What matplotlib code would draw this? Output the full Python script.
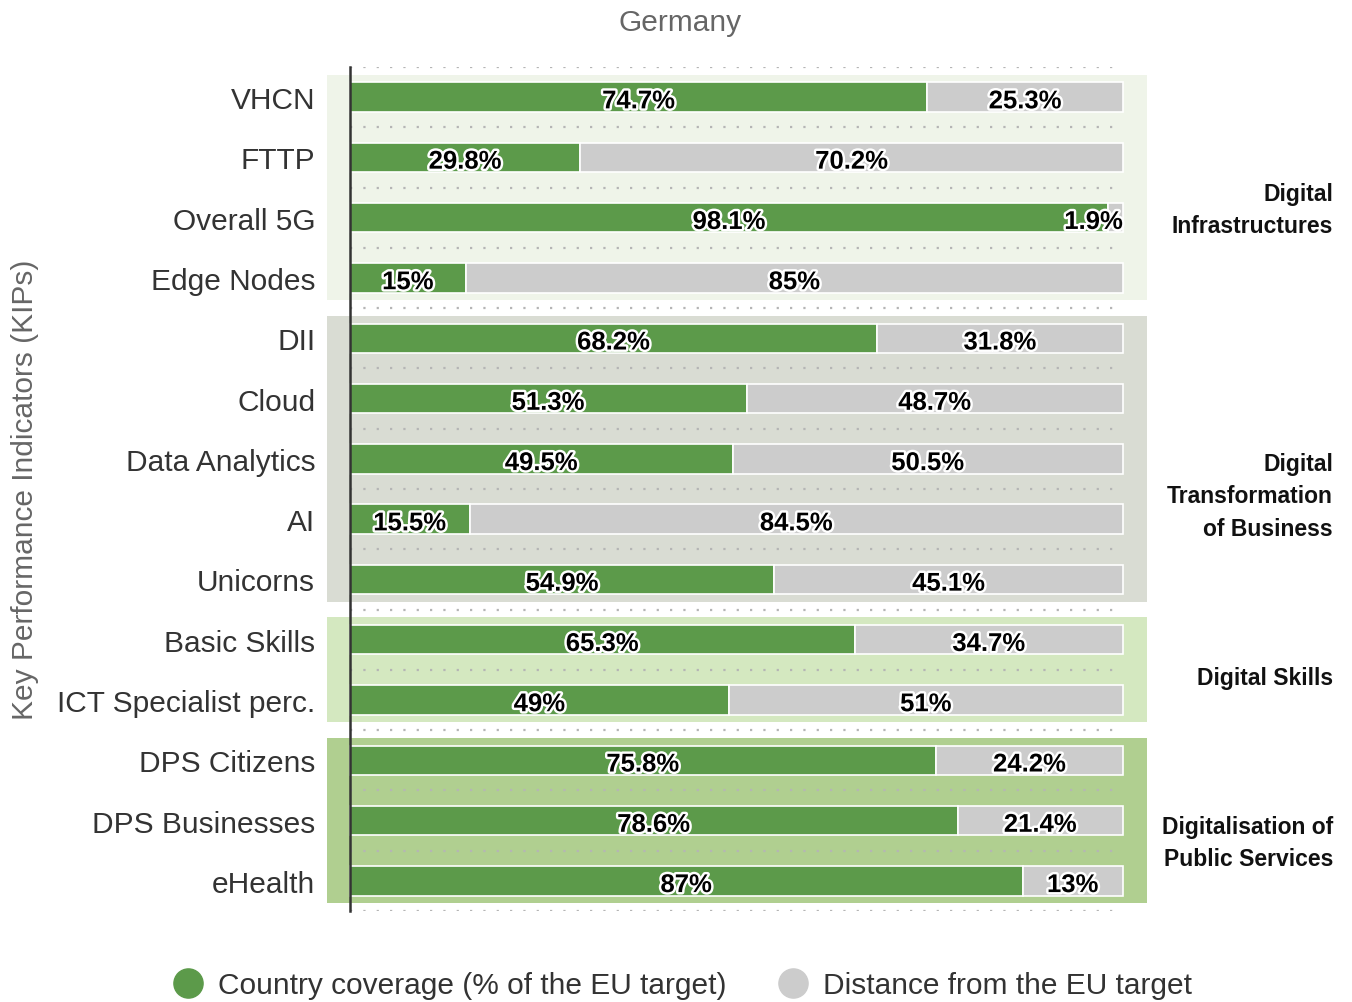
import matplotlib
matplotlib.use("Agg")
import matplotlib.pyplot as plt
import matplotlib.patheffects as pe
from matplotlib.patches import Rectangle
from matplotlib.lines import Line2D

plt.rcParams['font.family'] = ['Liberation Sans', 'DejaVu Sans']

title = "Germany"
categories = ["VHCN", "FTTP", "Overall 5G", "Edge Nodes", "DII", "Cloud",
              "Data Analytics", "AI", "Unicorns", "Basic Skills",
              "ICT Specialist perc.", "DPS Citizens", "DPS Businesses", "eHealth"]
coverage = [74.7, 29.8, 98.1, 15, 68.2, 51.3, 49.5, 15.5, 54.9, 65.3, 49, 75.8, 78.6, 87]
distance = [25.3, 70.2, 1.9, 85, 31.8, 48.7, 50.5, 84.5, 45.1, 34.7, 51, 24.2, 21.4, 13]
cov_labels = ["74.7%", "29.8%", "98.1%", "15%", "68.2%", "51.3%", "49.5%", "15.5%",
              "54.9%", "65.3%", "49%", "75.8%", "78.6%", "87%"]
dist_labels = ["25.3%", "70.2%", "1.9%", "85%", "31.8%", "48.7%", "50.5%", "84.5%",
               "45.1%", "34.7%", "51%", "24.2%", "21.4%", "13%"]
groups = ["Digital\nInfrastructures", "Digital\nTransformation\nof Business",
          "Digital Skills", "Digitalisation of\nPublic Services"]
group_rows = [(0, 3), (4, 8), (9, 10), (11, 13)]
group_colors = ["#eff4e9", "#d9dcd3", "#d4e8c0", "#b0cf90"]
legend_labels = ["Country coverage (% of the EU target)", "Distance from the EU target"]

GREEN = "#5c9a4a"
GRAY = "#cccccc"

W, H = 1352, 1003
fig = plt.figure(figsize=(W / 100, H / 100), dpi=100)
ax_left, ax_right = 327 / W, 1147 / W
ax_top, ax_bot = 1 - 68 / H, 1 - 912 / H
ax = fig.add_axes([ax_left, ax_bot, ax_right - ax_left, ax_top - ax_bot])
ax.set_xlim(-2.97, 103.1)
n = len(categories)
ax.set_ylim(n - 0.5, -0.5)
for s in ax.spines.values():
    s.set_visible(False)
ax.set_xticks([])

# group background bands
inset = 0.13
for (a, b), c in zip(group_rows, group_colors):
    ax.add_patch(Rectangle((-2.97, a - 0.5 + inset), 106.07, (b - a + 1) - 2 * inset,
                           facecolor=c, edgecolor='none', zorder=0))

# dotted gridlines between rows
for i in range(n + 1):
    ax.plot([0, 100], [i - 0.5, i - 0.5], color="#b5b5b5", lw=1.6,
            linestyle=(0, (1, 5)), zorder=1)

ys = list(range(n))
ax.barh(ys, coverage, height=0.49, color=GREEN, edgecolor='white', linewidth=1.2, zorder=2)
ax.barh(ys, distance, left=coverage, height=0.49, color=GRAY, edgecolor='white',
        linewidth=1.2, zorder=2)

ax.plot([0, 0], [-0.5, n - 0.5], color="#333333", lw=1.8, zorder=3, clip_on=False)

stroke = [pe.withStroke(linewidth=3.5, foreground='white')]
for i in range(n):
    c, d = coverage[i], distance[i]
    kw = dict(fontsize=18.5, fontweight='bold', color='black', va='center',
              path_effects=stroke, zorder=4)
    xc = c / 2
    ha = 'center'
    if c < 8:
        xc, ha = 0.3, 'left'
    ax.text(xc, i + 0.07, cov_labels[i], ha=ha, **kw)
    xd = c + d / 2
    ha = 'center'
    if d < 8:
        xd, ha = 100, 'right'
    ax.text(xd, i + 0.07, dist_labels[i], ha=ha, **kw)

ax.set_yticks(ys)
ax.set_yticklabels(categories, fontsize=21.5, color="#333333")
ax.tick_params(axis='y', length=0, pad=8.5)

fig.text(680 / W, 1 - 23 / H, title, fontsize=21.5, color="#666666", ha='center', va='center')
fig.text(25 / W, 1 - 490 / H, "Key Performance Indicators (KIPs)", fontsize=21.5,
         color="#666666", rotation=90, ha='center', va='center')

group_y = [211, 497, 679, 844]
for g, gy in zip(groups, group_y):
    fig.text(1333 / W, 1 - gy / H, g, fontsize=16.5, fontweight='bold', color="#111111",
             ha='right', va='center', multialignment='right', linespacing=1.5)

handles = [Line2D([], [], marker='o', linestyle='none', markersize=21,
                  markerfacecolor=GREEN, markeredgecolor=GREEN),
           Line2D([], [], marker='o', linestyle='none', markersize=21,
                  markerfacecolor=GRAY, markeredgecolor=GRAY)]
leg = fig.legend(handles, legend_labels, loc='center', bbox_to_anchor=(681 / W, 1 - 986 / H),
                 ncol=2, frameon=False, fontsize=21.5, handletextpad=0.43, columnspacing=1.6,
                 handlelength=1.2, borderpad=0, borderaxespad=0)
for t in leg.get_texts():
    t.set_color("#333333")

fig.savefig("out.png", dpi=100)
